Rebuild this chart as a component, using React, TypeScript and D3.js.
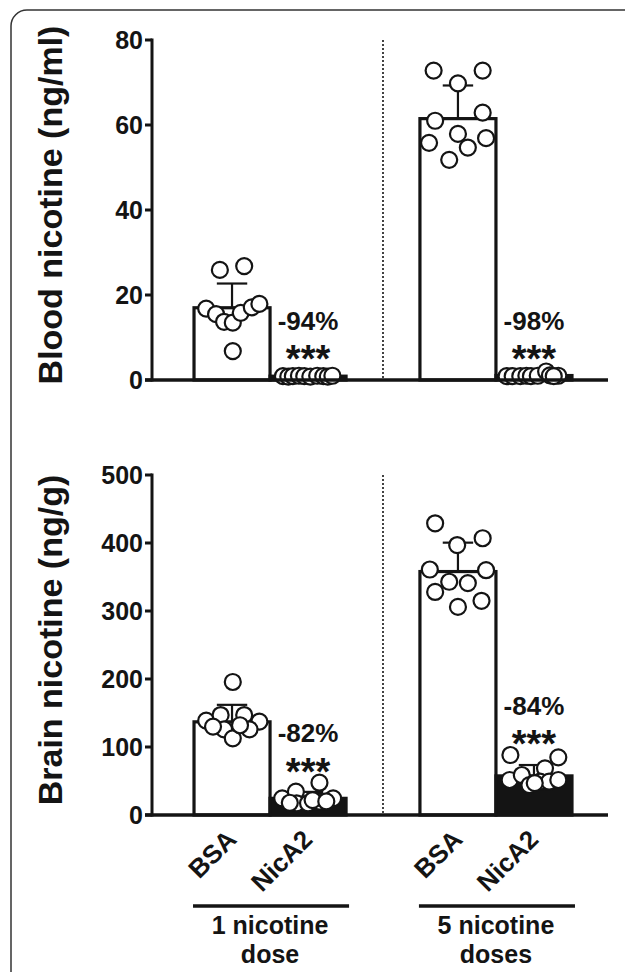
import React from 'react';
import * as d3 from 'd3';

// ---------- data ----------
const groups = ['1 nicotine dose', '5 nicotine doses'];
const groupLabelLines = [['1 nicotine', 'dose'], ['5 nicotine', 'doses']];
const treatments = ['BSA', 'NicA2'];

// Blood nicotine (ng/ml)
const bloodTicks = [0, 20, 40, 60, 80];
const bloodMeans = [[17.0, 0.9], [61.5, 1.05]];
const bloodSD = [[5.7, 0.1], [7.8, 0.3]];
const bloodPct = ['-94%', '-98%'];
const bloodBSA1 = [25.9, 26.8, 16.8, 15.5, 13.7, 13.5, 15.8, 17.1, 17.9, 6.8];
const bloodBSA1Jit = [-0.16, 0.16, -0.34, -0.21, -0.105, 0.01, 0.115, 0.26, 0.36, 0.01];
const bloodNic1 = [0.9, 0.8, 0.9, 1.0, 0.9, 0.8, 1.0, 0.9, 0.8, 1.0];
const bloodNic1Jit = [-0.33, -0.26, -0.2, -0.12, -0.05, 0.03, 0.12, 0.2, 0.26, 0.32];
const bloodBSA5 = [72.8, 72.8, 69.8, 62.9, 61.0, 55.8, 57.9, 54.7, 56.9, 51.8];
const bloodBSA5Jit = [-0.32, 0.325, 0, 0.325, -0.3, -0.38, 0, 0.13, 0.37, -0.115];
const bloodNic5 = [0.9, 0.9, 0.9, 1.0, 0.9, 1.0, 2.0, 1.1, 1.0, 0.9];
const bloodNic5Jit = [-0.36, -0.28, -0.18, -0.1, -0.04, 0.05, 0.16, 0.21, 0.32, 0.26];

// Brain nicotine (ng/g)
const brainTicks = [0, 100, 200, 300, 400, 500];
const brainMeans = [[137, 24.5], [358, 57.5]];
const brainSD = [[25, 9.5], [42.5, 16]];
const brainPct = ['-82%', '-84%'];
const brainBSA1 = [195.6, 138.7, 147, 147, 137.3, 126, 126, 112.7, 130, 132];
const brainBSA1Jit = [0.01, -0.34, -0.15, 0.16, 0.36, -0.105, 0.23, 0.01, -0.25, 0.105];
const brainNic1 = [24.5, 34.3, 17.2, 17.2, 47.5, 19.6, 24.5, 18, 22, 20];
const brainNic1Jit = [-0.34, -0.16, -0.15, 0, 0.15, 0.15, 0.33, -0.24, 0.06, 0.24];
const brainBSA5 = [429, 407, 397, 361, 360, 343, 341, 328, 315, 306];
const brainBSA5Jit = [-0.3, 0.325, -0.01, -0.37, 0.37, -0.115, 0.13, -0.3, 0.31, 0];
const brainNic5 = [88.2, 84.8, 68.6, 51.5, 58.8, 49, 49, 51.5, 44, 47];
const brainNic5Jit = [-0.31, 0.32, 0.145, -0.32, -0.16, 0.08, 0.2, 0.32, -0.06, 0.01];

const bloodPoints = [[[bloodBSA1, bloodBSA1Jit], [bloodNic1, bloodNic1Jit]], [[bloodBSA5, bloodBSA5Jit], [bloodNic5, bloodNic5Jit]]];
const brainPoints = [[[brainBSA1, brainBSA1Jit], [brainNic1, brainNic1Jit]], [[brainBSA5, brainBSA5Jit], [brainNic5, brainNic5Jit]]];

// ---------- layout ----------
const W = 625, H = 972;
const AX_X = 152;
const AX_END = 608;
const FONT = '"Liberation Sans", Arial, Helvetica, sans-serif';
const INK = '#141414';
const R = 8;

const xGroup = d3.scaleBand<string>().domain(groups).range([AX_X, 614]).paddingInner(0.327).paddingOuter(0.186);
const xTreat = d3.scaleBand<string>().domain(treatments).range([0, xGroup.bandwidth()]).padding(0);

function Panel({ yTop, yBottom, max, ticks, means, sds, points, pct, label, labelY }) {
  const y = d3.scaleLinear().domain([0, max]).range([yBottom, yTop]);
  const bw = xTreat.bandwidth();
  const g0 = xGroup(groups[0])!;
  const g1 = xGroup(groups[1])!;
  const divX = (g0 + xGroup.bandwidth() + g1) / 2;
  return (
    <g>
      {/* y label */}
      <text
        transform={`translate(62,${labelY}) rotate(-90)`}
        textAnchor="middle"
        fontFamily={FONT}
        fontWeight="bold"
        fontSize={34}
        fill={INK}
      >
        {label}
      </text>
      {/* divider */}
      <line x1={divX} x2={divX} y1={yTop} y2={yBottom} stroke={INK} strokeWidth={1.6} strokeDasharray="2,2" />
      {/* bars */}
      {groups.map((gName, gi) =>
        treatments.map((t, ti) => {
          const x0 = xGroup(gName)! + xTreat(t)!;
          const m = means[gi][ti];
          return (
            <rect
              key={`b${gi}${ti}`}
              x={x0}
              y={y(m)}
              width={bw}
              height={yBottom - y(m)}
              fill={ti === 0 ? '#fff' : INK}
              stroke={INK}
              strokeWidth={3.2}
            />
          );
        })
      )}
      {/* error bars */}
      {groups.map((gName, gi) =>
        treatments.map((t, ti) => {
          const cx = xGroup(gName)! + xTreat(t)! + bw / 2;
          const m = means[gi][ti];
          const top = m + sds[gi][ti];
          const cap = bw * 0.2;
          return (
            <g key={`e${gi}${ti}`} stroke={INK} strokeWidth={2.2}>
              <line x1={cx} x2={cx} y1={y(m)} y2={y(top)} />
              <line x1={cx - cap} x2={cx + cap} y1={y(top)} y2={y(top)} />
            </g>
          );
        })
      )}
      {/* points */}
      {groups.map((gName, gi) =>
        treatments.map((t, ti) => {
          const cx = xGroup(gName)! + xTreat(t)! + bw / 2;
          const [vals, jit] = points[gi][ti];
          return (
            <g key={`p${gi}${ti}`}>
              {vals.map((v, i) => (
                <circle key={i} cx={cx + jit[i] * bw} cy={y(v)} r={R} fill="#fff" stroke={INK} strokeWidth={2.2} />
              ))}
            </g>
          );
        })
      )}
      {/* annotations above NicA2 */}
      {groups.map((gName, gi) => {
        const cx = xGroup(gName)! + xTreat('NicA2')! + bw / 2;
        const [vals] = points[gi][1];
        const starC = Math.min(y(d3.max(vals)!) - R - 12, yBottom - 30);
        const pctC = starC - 30;
        return (
          <g key={`a${gi}`} fontFamily={FONT} fontWeight="bold" fill={INK} textAnchor="middle">
            <text x={cx} y={pctC + 9.5} fontSize={26}>{pct[gi]}</text>
            <text x={cx} y={starC + 22} fontSize={38}>***</text>
          </g>
        );
      })}
      {/* axes */}
      <line x1={AX_X} x2={AX_X} y1={yTop - 1.5} y2={yBottom + 1.5} stroke={INK} strokeWidth={3} />
      <line x1={AX_X - 7} x2={AX_END} y1={yBottom} y2={yBottom} stroke={INK} strokeWidth={3.5} />
      {ticks.map((tk) => (
        <g key={tk}>
          <line x1={AX_X - 7} x2={AX_X} y1={y(tk)} y2={y(tk)} stroke={INK} strokeWidth={3} />
          <text
            x={AX_X - 9}
            y={y(tk)}
            dy="0.36em"
            textAnchor="end"
            fontFamily={FONT}
            fontWeight="bold"
            fontSize={25}
            fill={INK}
          >
            {tk}
          </text>
        </g>
      ))}
    </g>
  );
}

export default function App() {
  const bw = xTreat.bandwidth();
  const axisBottom = 815;
  return (
    <svg width={W} height={H} style={{ position: 'absolute', left: 0, top: 0, display: 'block', background: '#fff' }}>
      <rect x={11} y={10} width={700} height={1100} rx={16} fill="#fff" stroke="#333" strokeWidth={1.5} />
      <Panel
        yTop={40}
        yBottom={380}
        max={80}
        ticks={bloodTicks}
        means={bloodMeans}
        sds={bloodSD}
        points={bloodPoints}
        pct={bloodPct}
        label="Blood nicotine (ng/ml)"
        labelY={205}
      />
      <Panel
        yTop={475}
        yBottom={815}
        max={500}
        ticks={brainTicks}
        means={brainMeans}
        sds={brainSD}
        points={brainPoints}
        pct={brainPct}
        label="Brain nicotine (ng/g)"
        labelY={640}
      />
      {/* category labels */}
      {groups.map((gName, gi) => {
        const gx = xGroup(gName)! + xGroup.bandwidth() / 2;
        return (
          <g key={gName}>
            {treatments.map((t) => {
              const cx = xGroup(gName)! + xTreat(t)! + bw / 2;
              return (
                <text
                  key={t}
                  transform={`translate(${cx + 6},${axisBottom + 26}) rotate(-45)`}
                  textAnchor="end"
                  fontFamily={FONT}
                  fontWeight="bold"
                  fontSize={26}
                  fill={INK}
                >
                  {t}
                </text>
              );
            })}
            <line
              x1={xGroup(gName)! - 1}
              x2={xGroup(gName)! + xGroup.bandwidth() + 3}
              y1={906}
              y2={906}
              stroke={INK}
              strokeWidth={3.5}
            />
            {groupLabelLines[gi].map((ln, li) => (
              <text
                key={li}
                x={gx}
                y={934 + li * 28.5}
                textAnchor="middle"
                fontFamily={FONT}
                fontWeight="bold"
                fontSize={25}
                fill={INK}
              >
                {ln}
              </text>
            ))}
          </g>
        );
      })}
    </svg>
  );
}
